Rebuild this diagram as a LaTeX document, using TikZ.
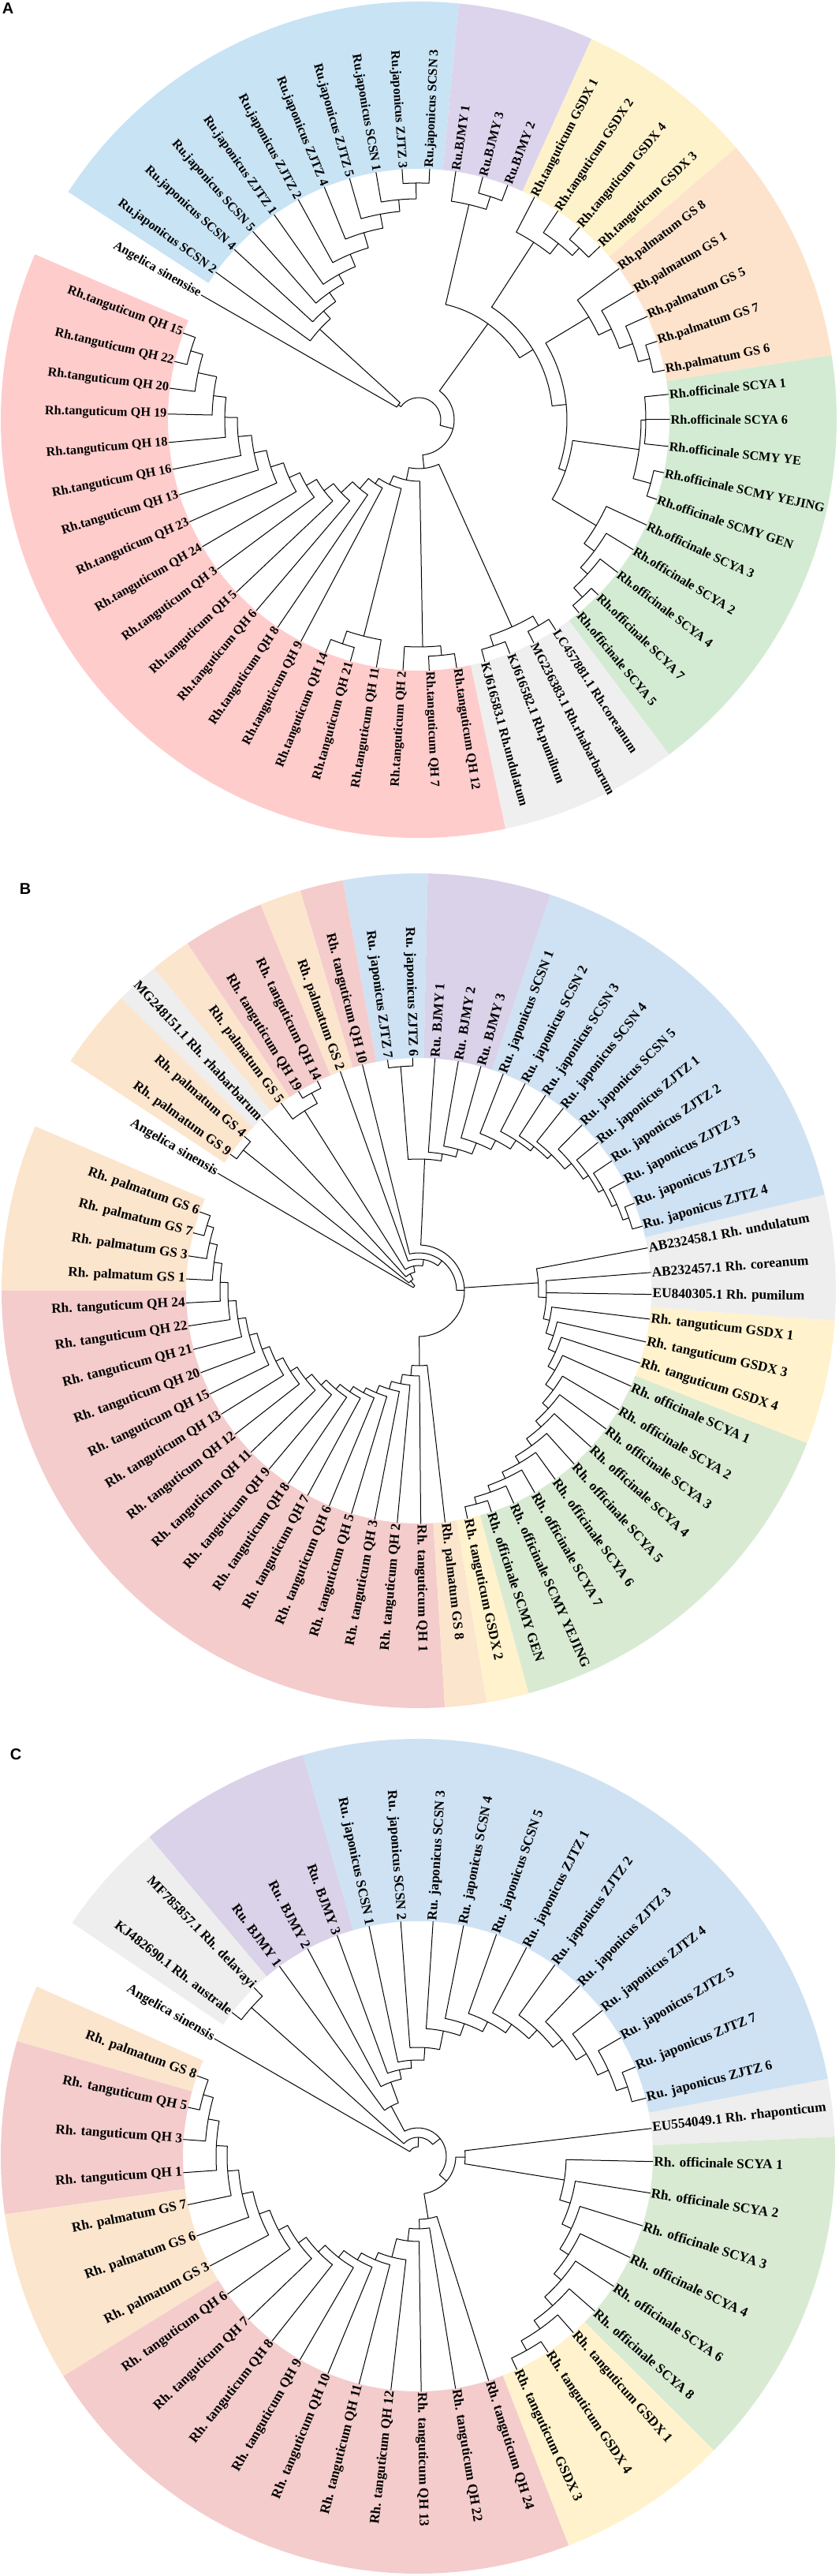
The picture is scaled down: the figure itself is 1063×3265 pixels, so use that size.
\documentclass[tikz,border=0pt]{standalone}
\usepackage{fontspec}
\setmainfont{Liberation Serif}
\setsansfont{Liberation Sans}
\definecolor{aBlue}{HTML}{C8E3F4}
\definecolor{aPurple}{HTML}{DCD4EC}
\definecolor{aYellow}{HTML}{FEF2CB}
\definecolor{aPeach}{HTML}{FDE3CC}
\definecolor{aGreen}{HTML}{D3EBD3}
\definecolor{aPink}{HTML}{FFCCCC}
\definecolor{aGray}{HTML}{EFEFEF}
\definecolor{bBlue}{HTML}{CFE2F3}
\definecolor{bPurple}{HTML}{D9D2E9}
\definecolor{bYellow}{HTML}{FFF2CC}
\definecolor{bPeach}{HTML}{FCE5CD}
\definecolor{bGreen}{HTML}{D9EAD3}
\definecolor{bPink}{HTML}{F4CCCC}
\definecolor{bGray}{HTML}{EEEEEE}
\newcounter{lfc}
\newcommand\nd[5]{\draw[tl] (#2:#3pt) -- (#2:#1pt) arc[start angle=#2,end angle=#4,radius=#1pt] -- (#4:#5pt);}
\newcommand\sect[3]{\fill[#1] (#2:\Ri pt) arc[start angle=#2,end angle=#3,radius=\Ri pt] -- (#3:\Ro pt) arc[start angle=#3,end angle=#2,radius=\Ro pt] -- cycle;}
\newcommand\lf[2]{%
  \stepcounter{lfc}%
  \pgfmathsetmacro\lfang{#1}%
  \pgfmathtruncatemacro\lfflip{(\lfang>90)&&(\lfang<270)}%
  \ifnum\lfflip=1
    \node[lab,anchor=east,rotate=\lfang-180] (lf\thelfc) at (\lfang:\Rt pt) {#2};%
  \else
    \node[lab,anchor=west,rotate=\lfang] (lf\thelfc) at (\lfang:\Rt pt) {#2};%
  \fi}
\tikzset{
  tl/.style={line width=1pt,black,line cap=round,line join=round},
  labA/.style={font=\fontsize{16.3}{18}\selectfont\bfseries,inner sep=1.5pt},
  labB/.style={font=\fontsize{17.3}{19}\selectfont\bfseries,inner sep=1.5pt},
  panel/.style={font=\fontsize{20}{20}\selectfont\sffamily\bfseries,inner sep=0pt}
}
\begin{document}
\begin{tikzpicture}[x=1pt,y=1pt]
\path[use as bounding box] (0,0) rectangle (1063,3265);
\node[panel] (lbA) at (10,3254) {A};
\node[panel] (lbB) at (32,2138) {B};
\node[panel] (lbC) at (20,1041) {C};

% ================= PANEL A =================
\begin{scope}[shift={(531pt,2733pt)},lab/.style={labA}]
\def\Rt{318}\def\Ri{318}\def\Ro{530}
\sect{aGreen}{-53.2}{8.9}
\sect{aPeach}{8.9}{40.6}
\sect{aYellow}{40.6}{65.6}
\sect{aPurple}{65.6}{84.5}
\sect{aBlue}{84.5}{147}
\sect{aPink}{156.7}{282}
\sect{aGray}{282}{306.8}
% blue
\nd{300}{87.5}{318}{93.8}{318}
\nd{280}{90.65}{300}{99.8}{318}
\nd{265}{95.2}{280}{106}{318}
\nd{247}{100.6}{265}{112.1}{318}
\nd{227}{106.35}{247}{118.7}{318}
\nd{210}{112.5}{227}{125.2}{318}
\nd{197}{118.85}{210}{131.4}{318}
\nd{183}{125.1}{197}{137.3}{318}
\nd{170}{131.2}{183}{144}{318}
\nd{32}{137.6}{170}{150.2}{318}
% purple
\nd{297}{69.2}{318}{75.2}{318}
\nd{280}{72.2}{297}{81.5}{318}
% yellow
\nd{298}{43.7}{318}{50.1}{318}
\nd{285}{46.9}{298}{56.3}{318}
\nd{268}{51.6}{285}{62.5}{318}
% peach
\nd{303}{11.4}{318}{18.2}{318}
\nd{288}{14.8}{303}{24.3}{318}
\nd{270}{19.55}{288}{30.8}{318}
\nd{252}{25.2}{270}{37}{318}
% green
\draw[tl] (-6.1:318pt) -- (-6.1:288pt) arc[start angle=-6.1,end angle=5.8,radius=288pt] -- (5.8:318pt);
\draw[tl] (0:288pt) -- (0:318pt);
\nd{305}{-18.5}{318}{-12.2}{318}
\nd{282}{-15.35}{305}{-0.1}{288}
\nd{306}{-50.3}{318}{-44.3}{318}
\nd{290}{-47.3}{306}{-37.5}{318}
\nd{278}{-42.4}{290}{-31.2}{318}
\nd{262}{-36.8}{278}{-24.8}{318}
\nd{197}{-30.8}{262}{-7.7}{282}
\nd{188}{-19.25}{197}{31.1}{252}
\nd{170}{5.9}{188}{57.05}{268}
\nd{150}{31.5}{170}{76.85}{280}
% gray
\nd{302}{285.3}{318}{291.3}{318}
\nd{302}{297.3}{318}{303.1}{318}
\nd{288}{288.3}{302}{300.2}{302}
% pink
\nd{302}{159.8}{318}{166.6}{318}
\nd{286}{163.2}{302}{172.8}{318}
\nd{262}{168}{286}{178.7}{318}
\nd{246}{173.35}{262}{185.2}{318}
\nd{230}{179.3}{246}{191.4}{318}
\nd{213}{185.35}{230}{197.4}{318}
\nd{197}{191.4}{213}{204}{318}
\nd{180}{197.7}{197}{210.4}{318}
\nd{165}{204.05}{180}{216.6}{318}
\nd{150}{210.3}{165}{223.4}{318}
\nd{135}{216.85}{150}{229.6}{318}
\nd{115}{223.2}{135}{235.8}{318}
\nd{98}{229.5}{115}{242}{318}
\nd{300}{248.2}{318}{254.2}{318}
\nd{283}{251.2}{300}{260.3}{318}
\nd{90}{235.75}{98}{255.75}{283}
\nd{300}{272.4}{318}{278.7}{318}
\nd{288}{266.4}{318}{275.55}{300}
\nd{78}{245.75}{90}{271}{288}
\nd{62}{258.4}{78}{294.25}{288}
\nd{45}{-83.7}{62}{54.2}{150}
\nd{28}{-14.75}{45}{143.9}{32}
% labels
\lf{0}{Rh.officinale SCYA 6}
\lf{5.8}{Rh.officinale SCYA 1}
\lf{11.4}{Rh.palmatum GS 6}
\lf{18.2}{Rh.palmatum GS 7}
\lf{24.3}{Rh.palmatum GS 5}
\lf{30.8}{Rh.palmatum GS 1}
\lf{37}{Rh.palmatum GS 8}
\lf{43.7}{Rh.tanguticum GSDX 3}
\lf{50.1}{Rh.tanguticum GSDX 4}
\lf{56.3}{Rh.tanguticum GSDX 2}
\lf{62.5}{Rh.tanguticum GSDX 1}
\lf{69.2}{Ru.BJMY 2}
\lf{75.2}{Ru.BJMY 3}
\lf{81.5}{Ru.BJMY 1}
\lf{87.5}{Ru.japonicus SCSN 3}
\lf{93.8}{Ru.japonicus ZJTZ 3}
\lf{99.8}{Ru.japonicus SCSN 1}
\lf{106}{Ru.japonicus ZJTZ 5}
\lf{112.1}{Ru.japonicus ZJTZ 4}
\lf{118.7}{Ru.japonicus ZJTZ 2}
\lf{125.2}{Ru.japonicus ZJTZ 1}
\lf{131.4}{Ru.japonicus SCSN 5}
\lf{137.3}{Ru.japonicus SCSN 4}
\lf{144}{Ru.japonicus SCSN 2}
\lf{150.2}{Angelica sinensise}
\lf{159.8}{Rh.tanguticum QH 15}
\lf{166.6}{Rh.tanguticum QH 22}
\lf{172.8}{Rh.tanguticum QH 20}
\lf{178.7}{Rh.tanguticum QH 19}
\lf{185.2}{Rh.tanguticum QH 18}
\lf{191.4}{Rh.tanguticum QH 16}
\lf{197.4}{Rh.tanguticum QH 13}
\lf{204}{Rh.tanguticum QH 23}
\lf{210.4}{Rh.tanguticum QH 24}
\lf{216.6}{Rh.tanguticum QH 3}
\lf{223.4}{Rh.tanguticum QH 5}
\lf{229.6}{Rh.tanguticum QH 6}
\lf{235.8}{Rh.tanguticum QH 8}
\lf{242}{Rh.tanguticum QH 9}
\lf{248.2}{Rh.tanguticum QH 14}
\lf{254.2}{Rh.tanguticum QH 21}
\lf{260.3}{Rh.tanguticum QH 11}
\lf{266.4}{Rh.tanguticum QH 2}
\lf{272.4}{Rh.tanguticum QH 7}
\lf{278.7}{Rh.tanguticum QH 12}
\lf{285.3}{KJ616583.1 Rh.undulatum}
\lf{291.3}{KJ616582.1 Rh.pumilum}
\lf{297.3}{MG236383.1 Rh.rhabarbarum}
\lf{303.1}{LC457881.1 Rh.coreanum}
\lf{309.7}{Rh.officinale SCYA 5}
\lf{315.7}{Rh.officinale SCYA 7}
\lf{322.5}{Rh.officinale SCYA 4}
\lf{328.8}{Rh.officinale SCYA 2}
\lf{335.2}{Rh.officinale SCYA 3}
\lf{341.5}{Rh.officinale SCMY GEN}
\lf{347.8}{Rh.officinale SCMY YEJING}
\lf{353.9}{Rh.officinale SCMY YE}
\end{scope}

% ================= PANEL B =================
\begin{scope}[shift={(531pt,1629pt)},lab/.style={labB}]
\def\Rt{295}\def\Ri{295}\def\Ro{529}
\sect{bBlue}{88.75}{100.5}
\sect{bPink}{100.5}{106.5}
\sect{bPeach}{106.5}{112.3}
\sect{bPink}{112.3}{123.7}
\sect{bPeach}{123.7}{129.4}
\sect{bGray}{129.4}{135.5}
\sect{bPeach}{135.5}{146.6}
\sect{bPeach}{156.8}{180}
\sect{bPink}{180}{273.6}
\sect{bPeach}{273.6}{279.4}
\sect{bYellow}{279.4}{285.3}
\sect{bGreen}{285.3}{338.6}
\sect{bYellow}{338.6}{355.9}
\sect{bGray}{355.9}{373.3}
\sect{bBlue}{13.3}{71.6}
\sect{bPurple}{71.6}{88.75}
% Ru clade
\nd{282}{16.1}{295}{22.1}{295}
\nd{274}{19.1}{282}{28}{295}
\nd{267}{23.55}{274}{33.9}{295}
\nd{260}{28.7}{267}{39.6}{295}
\nd{252}{34.15}{260}{45.4}{295}
\nd{241}{39.8}{252}{51.6}{295}
\nd{234}{45.7}{241}{57}{295}
\nd{227}{51.35}{234}{62.8}{295}
\nd{214}{57.1}{227}{68.7}{295}
\nd{201}{62.9}{214}{74.5}{295}
\nd{186}{68.7}{201}{80.2}{295}
\nd{176}{74.45}{186}{86}{295}
\nd{285}{91.5}{295}{97.7}{295}
\nd{167}{80.2}{176}{94.6}{285}
% green / yellow ladder
\nd{280}{282.1}{295}{288.2}{295}
\nd{271}{285.15}{280}{294.1}{295}
\nd{262}{289.6}{271}{299.9}{295}
\nd{253}{294.75}{262}{305.9}{295}
\nd{243}{300.3}{253}{311.9}{295}
\nd{232}{306.1}{243}{317.8}{295}
\nd{222}{311.95}{232}{323.6}{295}
\nd{212}{317.8}{222}{329.3}{295}
\nd{200}{323.55}{212}{335.8}{295}
\nd{190}{329.7}{200}{341.9}{295}
\nd{180}{335.8}{190}{347.3}{295}
\nd{170}{341.55}{180}{353}{295}
\draw[tl] (-12.7:170pt) -- (-12.7:162pt) arc[start angle=-12.7,end angle=4.5,radius=162pt] -- (4.5:295pt);
\draw[tl] (-0.9:162pt) -- (-0.9:295pt);
\nd{152}{-3.03}{162}{10.6}{295}
% pink ladder
\nd{281}{160.2}{295}{165.6}{295}
\nd{272}{162.9}{281}{171.4}{295}
\nd{262}{167.15}{272}{177.1}{295}
\nd{252}{172.1}{262}{183}{295}
\nd{242}{177.55}{252}{188.7}{295}
\nd{232}{183.1}{242}{194.6}{295}
\nd{222}{188.85}{232}{200.6}{295}
\nd{212}{194.7}{222}{206.3}{295}
\nd{202}{200.5}{212}{212}{295}
\nd{192}{206.25}{202}{218}{295}
\nd{182}{212.1}{192}{223.9}{295}
\nd{172}{218}{182}{230}{295}
\nd{163}{224}{172}{235.9}{295}
\nd{155}{229.95}{163}{241.5}{295}
\nd{147}{235.7}{155}{247.4}{295}
\nd{140}{241.55}{147}{253.2}{295}
\nd{130}{247.4}{140}{259.1}{295}
\nd{120}{253.25}{130}{264.7}{295}
\nd{108}{258.95}{120}{270.5}{295}
\nd{95}{264.7}{108}{276.5}{295}
% core
\draw[tl] (-89.4:95pt) -- (-89.4:58pt) arc[start angle=-89.4,end angle=87.4,radius=58pt] -- (87.4:167pt);
\draw[tl] (3.8:58pt) -- (3.8:152pt);
\nd{48}{0.6}{58}{104}{295}
\nd{40}{52.3}{48}{109.7}{295}
\nd{285}{115.8}{295}{121.1}{295}
\nd{270}{118.45}{285}{126.3}{295}
\nd{32}{81}{40}{122.4}{270}
\nd{24}{101.7}{32}{132.5}{295}
\nd{285}{138.5}{295}{144.1}{295}
\nd{16}{117.1}{24}{141.3}{285}
\nd{8}{129.2}{16}{149.7}{295}
% labels
\lf{86}{Ru. BJMY 1}
\lf{80.2}{Ru. BJMY 2}
\lf{74.5}{Ru. BJMY 3}
\lf{68.7}{Ru. japonicus SCSN 1}
\lf{62.8}{Ru. japonicus SCSN 2}
\lf{57}{Ru. japonicus SCSN 3}
\lf{51.6}{Ru. japonicus SCSN 4}
\lf{45.4}{Ru. japonicus SCSN 5}
\lf{39.6}{Ru. japonicus ZJTZ 1}
\lf{33.9}{Ru. japonicus ZJTZ 2}
\lf{28}{Ru. japonicus ZJTZ 3}
\lf{22.1}{Ru. japonicus ZJTZ 5}
\lf{16.1}{Ru. japonicus ZJTZ 4}
\lf{10.6}{AB232458.1 Rh. undulatum}
\lf{4.5}{AB232457.1 Rh. coreanum}
\lf{-0.9}{EU840305.1 Rh. pumilum}
\lf{353}{Rh. tanguticum GSDX 1}
\lf{347.3}{Rh. tanguticum GSDX 3}
\lf{341.9}{Rh. tanguticum GSDX 4}
\lf{335.8}{Rh. officinale SCYA 1}
\lf{329.3}{Rh. officinale SCYA 2}
\lf{323.6}{Rh. officinale SCYA 3}
\lf{317.8}{Rh. officinale SCYA 4}
\lf{311.9}{Rh. officinale SCYA 5}
\lf{305.9}{Rh. officinale SCYA 6}
\lf{299.9}{Rh. officinale SCYA 7}
\lf{294.1}{Rh. officinale SCMY YEJING}
\lf{288.2}{Rh. officinale SCMY GEN}
\lf{282.1}{Rh. tanguticum GSDX 2}
\lf{276.5}{Rh. palmatum GS 8}
\lf{270.5}{Rh. tanguticum QH 1}
\lf{264.7}{Rh. tanguticum QH 2}
\lf{259.1}{Rh. tanguticum QH 3}
\lf{253.2}{Rh. tanguticum QH 5}
\lf{247.4}{Rh. tanguticum QH 6}
\lf{241.5}{Rh. tanguticum QH 7}
\lf{235.9}{Rh. tanguticum QH 8}
\lf{230}{Rh. tanguticum QH 9}
\lf{223.9}{Rh. tanguticum QH 11}
\lf{218}{Rh. tanguticum QH 12}
\lf{212}{Rh. tanguticum QH 13}
\lf{206.3}{Rh. tanguticum QH 15}
\lf{200.6}{Rh. tanguticum QH 20}
\lf{194.6}{Rh. tanguticum QH 21}
\lf{188.7}{Rh. tanguticum QH 22}
\lf{183}{Rh. tanguticum QH 24}
\lf{177.1}{Rh. palmatum GS 1}
\lf{171.4}{Rh. palmatum GS 3}
\lf{165.6}{Rh. palmatum GS 7}
\lf{160.2}{Rh. palmatum GS 6}
\lf{149.7}{Angelica sinensis}
\lf{144.1}{Rh. palmatum GS 9}
\lf{138.5}{Rh. palmatum GS 4}
\lf{132.5}{MG248151.1 Rh. rhabarbarum}
\lf{126.3}{Rh. palmatum GS 5}
\lf{121.1}{Rh. tanguticum QH 19}
\lf{115.8}{Rh. tanguticum QH 14}
\lf{109.7}{Rh. palmatum GS 2}
\lf{104}{Rh. tanguticum QH 10}
\lf{97.7}{Ru. japonicus ZJTZ 7}
\lf{91.5}{Ru. japonicus ZJTZ 6}
\end{scope}

% ================= PANEL C =================
\begin{scope}[shift={(530pt,532pt)},lab/.style={labB}]
\def\Rt{298}\def\Ri{298}\def\Ro{529}
\sect{bGreen}{315.2}{362.7}
\sect{bGray}{2.7}{10.7}
\sect{bBlue}{10.7}{106}
\sect{bPurple}{106}{130.1}
\sect{bGray}{130.1}{146}
\sect{bPeach}{156}{164}
\sect{bPink}{164}{188}
\sect{bPeach}{188}{211.8}
\sect{bPink}{211.8}{291.2}
\sect{bYellow}{291.2}{315.2}
% Ru ladder
\nd{280}{14.3}{298}{22.3}{298}
\nd{265}{18.3}{280}{30.3}{298}
\nd{250}{24.3}{265}{38.3}{298}
\nd{235}{31.3}{250}{46.5}{298}
\nd{220}{38.9}{235}{54.4}{298}
\nd{205}{46.65}{220}{62.5}{298}
\nd{192}{54.6}{205}{70.5}{298}
\nd{178}{62.55}{192}{78.8}{298}
\nd{162}{70.7}{178}{86.3}{298}
\nd{138}{78.5}{162}{94.2}{298}
\nd{122}{86.35}{138}{102}{298}
\nd{112}{94.2}{122}{110.1}{298}
\nd{100}{102.15}{112}{118}{298}
\nd{72}{110.1}{100}{126.1}{298}
\nd{283}{134.2}{298}{142.3}{298}
% yellow / green ladder
\nd{282}{294.9}{298}{303.6}{298}
\nd{268}{299.25}{282}{311.4}{298}
\nd{255}{305.3}{268}{318.8}{298}
\nd{240}{312.05}{255}{326.4}{298}
\nd{228}{319.2}{240}{334.5}{298}
\nd{215}{326.85}{228}{342.8}{298}
\nd{202}{334.8}{215}{351}{298}
\nd{188}{342.9}{202}{358.7}{298}
% pink ladder
\nd{283}{160}{298}{168}{298}
\nd{270}{164}{283}{175.9}{298}
\nd{256}{169.95}{270}{184}{298}
\nd{242}{176.98}{256}{191.9}{298}
\nd{228}{184.44}{242}{199.8}{298}
\nd{214}{192.12}{228}{207.8}{298}
\nd{200}{199.96}{214}{215.9}{298}
\nd{187}{207.93}{200}{223.9}{298}
\nd{175}{215.92}{187}{231.7}{298}
\nd{163}{223.81}{175}{239.9}{298}
\nd{152}{231.85}{163}{247.5}{298}
\nd{142}{239.68}{152}{255.5}{298}
\nd{132}{247.59}{142}{263.4}{298}
\nd{108}{255.5}{132}{270.8}{298}
\nd{92}{263.15}{108}{279.2}{298}
\nd{80}{271.2}{92}{287.5}{298}
% core
\nd{60}{-9.2}{188}{6.8}{298}
\nd{48}{-80.65}{80}{-1.2}{60}
\nd{36}{-40.9}{48}{118.1}{72}
\nd{24}{38.6}{36}{138.25}{283}
\nd{12}{88.4}{24}{150}{298}
% labels
\lf{358.7}{Rh. officinale SCYA 1}
\lf{6.8}{EU554049.1 Rh. rhaponticum}
\lf{14.3}{Ru. japonicus ZJTZ 6}
\lf{22.3}{Ru. japonicus ZJTZ 7}
\lf{30.3}{Ru. japonicus ZJTZ 5}
\lf{38.3}{Ru. japonicus ZJTZ 4}
\lf{46.5}{Ru. japonicus ZJTZ 3}
\lf{54.4}{Ru. japonicus ZJTZ 2}
\lf{62.5}{Ru. japonicus ZJTZ 1}
\lf{70.5}{Ru. japonicus SCSN 5}
\lf{78.8}{Ru. japonicus SCSN 4}
\lf{86.3}{Ru. japonicus SCSN 3}
\lf{94.2}{Ru. japonicus SCSN 2}
\lf{102}{Ru. japonicus SCSN 1}
\lf{110.1}{Ru. BJMY 3}
\lf{118}{Ru. BJMY 2}
\lf{126.1}{Ru. BJMY 1}
\lf{134.2}{MF785857.1 Rh. delavayi}
\lf{142.3}{KJ482690.1 Rh. australe}
\lf{150}{Angelica sinensis}
\lf{160}{Rh. palmatum GS 8}
\lf{168}{Rh. tanguticum QH 5}
\lf{175.9}{Rh. tanguticum QH 3}
\lf{184}{Rh. tanguticum QH 1}
\lf{191.9}{Rh. palmatum GS 7}
\lf{199.8}{Rh. palmatum GS 6}
\lf{207.8}{Rh. palmatum GS 3}
\lf{215.9}{Rh. tanguticum QH 6}
\lf{223.9}{Rh. tanguticum QH 7}
\lf{231.7}{Rh. tanguticum QH 8}
\lf{239.9}{Rh. tanguticum QH 9}
\lf{247.5}{Rh. tanguticum QH 10}
\lf{255.5}{Rh. tanguticum QH 11}
\lf{263.4}{Rh. tanguticum QH 12}
\lf{270.8}{Rh. tanguticum QH 13}
\lf{279.2}{Rh. tanguticum QH 22}
\lf{287.5}{Rh. tanguticum QH 24}
\lf{294.9}{Rh. tanguticum GSDX 3}
\lf{303.6}{Rh. tanguticum GSDX 4}
\lf{311.4}{Rh. tanguticum GSDX 1}
\lf{318.8}{Rh. officinale SCYA 8}
\lf{326.4}{Rh. officinale SCYA 6}
\lf{334.5}{Rh. officinale SCYA 4}
\lf{342.8}{Rh. officinale SCYA 3}
\lf{351}{Rh. officinale SCYA 2}
\end{scope}
\end{tikzpicture}
\end{document}
